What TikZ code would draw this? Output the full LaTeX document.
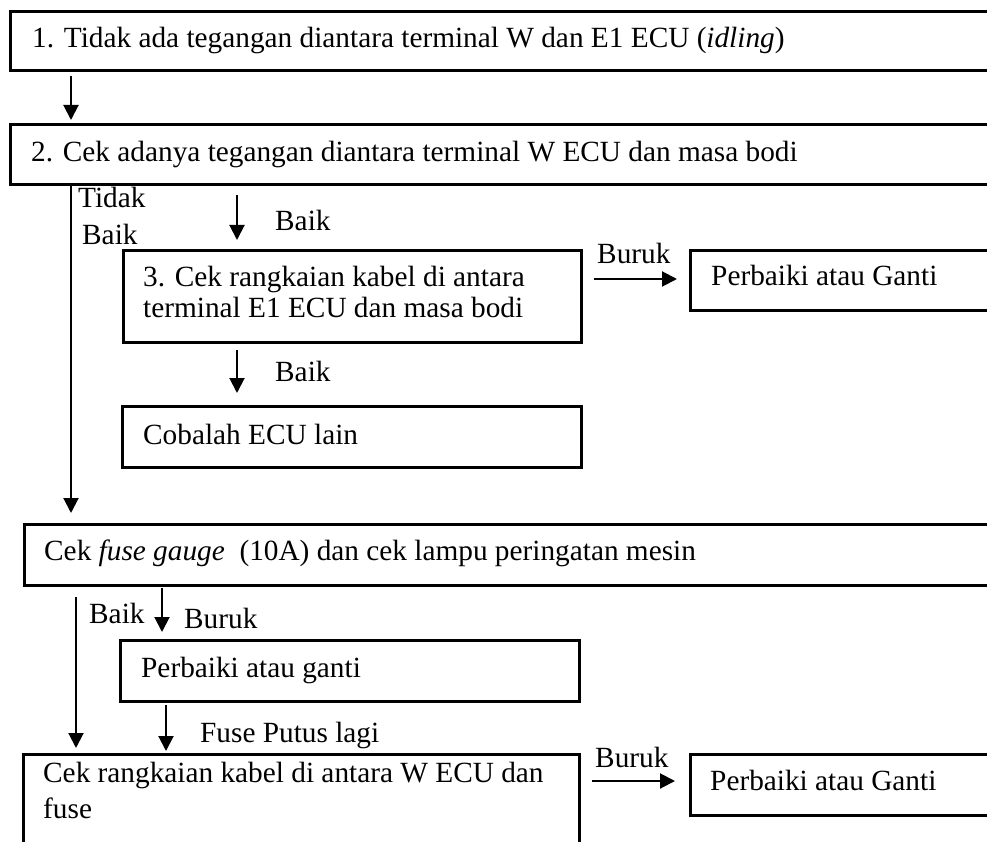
\documentclass[tikz,border=0pt]{standalone}
\usepackage{fontspec}
\setmainfont{Liberation Serif}
\usetikzlibrary{arrows.meta}
\begin{document}
\begin{tikzpicture}[x=1pt,y=-1pt,
  box/.style={draw,line width=2.6pt,rectangle,inner sep=0pt,anchor=north west},
  txt/.style={anchor=base west,inner sep=0pt,font=\fontsize{29.3}{34}\selectfont},
  arr/.style={line width=2pt,-{Triangle[length=15pt,width=15pt]}}]
\useasboundingbox (0,0) rectangle (987,842);
\clip (0,0) rectangle (987,842);

% boxes
\node[box,minimum width=1100pt,minimum height=59pt] (b1) at (9,10) {};
\node[box,minimum width=1100pt,minimum height=60pt] (b2) at (9,123) {};
\node[box,minimum width=458pt,minimum height=92pt] (b3) at (122,249) {};
\node[box,minimum width=400pt,minimum height=60pt] (r1) at (689,249) {};
\node[box,minimum width=459pt,minimum height=61pt] (b4) at (121,405) {};
\node[box,minimum width=1100pt,minimum height=61pt] (b5) at (23,523) {};
\node[box,minimum width=459pt,minimum height=61pt] (b6) at (119,639) {};
\node[box,minimum width=556pt,minimum height=150pt] (b7) at (22,753) {};
\node[box,minimum width=400pt,minimum height=61pt] (r2) at (689,753) {};

% box texts
\node[txt] (t1) at (32,48) {1. Tidak ada tegangan diantara terminal W dan E1 ECU (\textit{idling})};
\node[txt] (t2) at (31,162) {2. Cek adanya tegangan diantara terminal W ECU dan masa bodi};
\node[txt] (t3a) at (143,287) {3. Cek rangkaian kabel di antara};
\node[txt] (t3b) at (143,317) {terminal E1 ECU dan masa bodi};
\node[txt] (tr1) at (711,285) {Perbaiki atau Ganti};
\node[txt] (t4) at (143,444) {Cobalah ECU lain};
\node[txt] (t5) at (44,560) {Cek \textit{fuse gauge}\ \ (10A) dan cek lampu peringatan mesin};
\node[txt] (t6) at (141,677) {Perbaiki atau ganti};
\node[txt] (t7a) at (43,782) {Cek rangkaian kabel di antara W ECU dan};
\node[txt] (t7b) at (43,818) {fuse};
\node[txt] (tr2) at (710,790) {Perbaiki atau Ganti};

% connector labels
\node[txt] (l1) at (78,208) {Tidak};
\node[txt] (l2) at (82,244) {Baik};
\node[txt] (l3) at (275,231) {Baik};
\node[txt] (l4) at (597,264) {Buruk};
\node[txt] (l5) at (275,381) {Baik};
\node[txt] (l6) at (89,623) {Baik};
\node[txt] (l7) at (184,628) {Buruk};
\node[txt] (l8) at (200,742) {Fuse Putus lagi};
\node[txt] (l9) at (595,767) {Buruk};

% connector end points
\coordinate (a1s) at (71,76);   \coordinate (a1e) at (71,120);
\coordinate (a2s) at (237,195); \coordinate (a2e) at (237,240);
\coordinate (a3s) at (594,279); \coordinate (a3e) at (677,279);
\coordinate (a4s) at (237,350); \coordinate (a4e) at (237,393);
\coordinate (a5s) at (71,183);  \coordinate (a5e) at (71,513);
\coordinate (a6s) at (76,597);  \coordinate (a6e) at (76,748);
\coordinate (a7s) at (162,588); \coordinate (a7e) at (162,632);
\coordinate (a8s) at (166,705); \coordinate (a8e) at (166,751);
\coordinate (a9s) at (592,781); \coordinate (a9e) at (675,781);

% connectors
\draw[arr] (a1s) -- (a1e);
\draw[arr] (a2s) -- (a2e);
\draw[arr] (a3s) -- (a3e);
\draw[arr] (a4s) -- (a4e);
\draw[arr] (a5s) -- (a5e);
\draw[arr] (a6s) -- (a6e);
\draw[arr] (a7s) -- (a7e);
\draw[arr] (a8s) -- (a8e);
\draw[arr] (a9s) -- (a9e);
\end{tikzpicture}
\end{document}
